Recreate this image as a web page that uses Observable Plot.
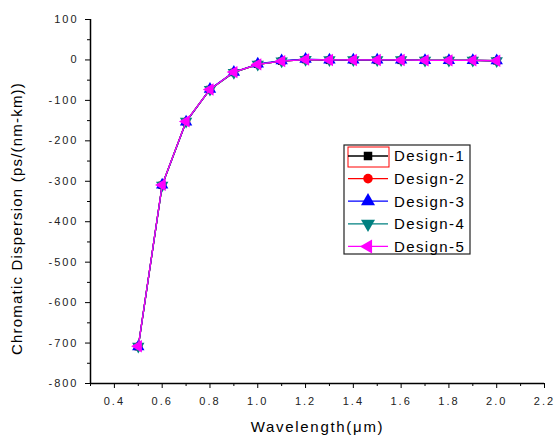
<!DOCTYPE html>
<html>
<head>
<meta charset="utf-8">
<script src="https://cdn.jsdelivr.net/npm/d3@7"></script>
<script src="https://cdn.jsdelivr.net/npm/@observablehq/plot@0.6"></script>
<style>
  html, body { margin: 0; padding: 0; background: #fff; }
  #chart { position: relative; width: 555px; height: 441px; }
  svg { font-family: Arial, "Liberation Sans", sans-serif; }
</style>
</head>
<body>
<div id="chart"></div>
<script>
// ---- data ----
const wavelength = [0.5, 0.6, 0.7, 0.8, 0.9, 1.0, 1.1, 1.2, 1.3, 1.4, 1.5, 1.6, 1.7, 1.8, 1.9, 2.0];
const design1 = [-709, -310, -153, -73, -31, -11, -3, 1, -1, -1, -1, -1, -1, -1, -1, -2];
const design2 = [-708, -309, -152, -73, -30, -11, -3, 1, 0, 0, 0, 0, -1, -1, -1, -2];
const design3 = [-709, -309, -153, -72, -30, -10, -2, 2, 0, 0, 0, 0, -1, -1, -1, -2];
const design4 = [-708, -310, -152, -73, -31, -11, -3, 1, 0, 0, 0, 0, -1, -1, -1, -2];
const design5 = [-708, -309, -152, -73, -30, -11, -3, 1, 0, 0, 0, 0, -1, -1, -1, -2];
const seriesNames = ["Design-1", "Design-2", "Design-3", "Design-4", "Design-5"];
const seriesValues = [design1, design2, design3, design4, design5];
const seriesColors = ["#000000", "#ff0000", "#0000ff", "#008080", "#ff00ff"];
const xMajorTicks = [0.4, 0.6, 0.8, 1.0, 1.2, 1.4, 1.6, 1.8, 2.0, 2.2];
const xMinorTicks = [0.3, 0.5, 0.7, 0.9, 1.1, 1.3, 1.5, 1.7, 1.9, 2.1];
const yMajorTicks = [100, 0, -100, -200, -300, -400, -500, -600, -700, -800];
const yMinorTicks = [50, -50, -150, -250, -350, -450, -550, -650, -750];
const xTitle = "Wavelength(μm)";
const yTitle = "Chromatic Dispersion (ps/(nm-km))";

// ---- custom symbols ----
const sq3 = Math.sqrt(3);
const triDown = { draw(ctx, size) { const y = -Math.sqrt(size / (sq3 * 3)); ctx.moveTo(0, -y * 2); ctx.lineTo(-sq3 * y, y); ctx.lineTo(sq3 * y, y); ctx.closePath(); } };
const triLeft = { draw(ctx, size) { const y = -Math.sqrt(size / (sq3 * 3)); ctx.moveTo(y * 2, 0); ctx.lineTo(-y, -sq3 * y); ctx.lineTo(-y, sq3 * y); ctx.closePath(); } };
const seriesSymbols = [d3.symbolSquare, d3.symbolCircle, d3.symbolTriangle, triDown, triLeft];
const seriesR = [4.2, 4.2, 4.6, 4.6, 4.6];

const rows = [];
seriesNames.forEach((name, i) => wavelength.forEach((w, j) => rows.push({ series: name, idx: i, x: w, y: seriesValues[i][j] })));

const marks = [];
seriesNames.forEach((name, i) => {
  const d = rows.filter(r => r.series === name);
  marks.push(Plot.line(d, { x: "x", y: "y", stroke: seriesColors[i], strokeWidth: 1.3 }));
  marks.push(Plot.dot(d, { x: "x", y: "y", fill: seriesColors[i], stroke: "none", symbol: () => seriesSymbols[i], r: seriesR[i] }));
});

const noLabel = () => "";
const plot = Plot.plot({
  width: 555,
  height: 441,
  marginLeft: 90,
  marginRight: 11,
  marginTop: 19,
  marginBottom: 58,
  style: { fontFamily: "Arial, 'Liberation Sans', sans-serif", background: "#fff", color: "#000" },
  x: { domain: [0.3, 2.2] },
  y: { domain: [-800, 100] },
  symbol: { type: "identity" },
  marks: [
    Plot.axisX(xMinorTicks, { tickSize: 3, tickFormat: noLabel, label: null, stroke: "#000" }),
    Plot.axisX(xMajorTicks, { tickSize: 5, tickPadding: 9, tickFormat: d3.format(".1f"), label: null, fontSize: 11, fill: "#222", stroke: "#000", className: "ticklabx" }),
    Plot.axisY(yMinorTicks, { tickSize: 3, tickFormat: noLabel, label: null, stroke: "#000" }),
    Plot.axisY(yMajorTicks, { tickSize: 5, tickPadding: 7, tickFormat: d => String(d), label: null, fontSize: 11, fill: "#222", stroke: "#000", className: "ticklaby" }),
    Plot.ruleX([0.3], { stroke: "#000", strokeWidth: 1.5 }),
    Plot.ruleY([-800], { stroke: "#000", strokeWidth: 1.5 }),
    ...marks,
    Plot.text([xTitle], { frameAnchor: "bottom", dy: 48, fontSize: 15, fill: "#000", className: "xtitle" }),
    Plot.text([yTitle], { frameAnchor: "left", textAnchor: "middle", dx: -73, dy: 17, rotate: -90, fontSize: 15, fill: "#000", className: "ytitle" })
  ]
});
document.getElementById("chart").appendChild(plot);

const svg = d3.select(plot);
svg.selectAll(".xtitle text").style("letter-spacing", "1.7px");
svg.selectAll(".ytitle text").style("letter-spacing", "1.2px");
svg.selectAll(".ticklabx text").style("letter-spacing", "2px");
svg.selectAll(".ticklaby text").style("letter-spacing", "2px");

// ---- legend (drawn in the same svg) ----
const lg = svg.append("g").attr("transform", "translate(344,145)");
lg.append("rect").attr("x", 0).attr("y", 0).attr("width", 126).attr("height", 109)
  .attr("fill", "#fff").attr("stroke", "#222").attr("stroke-width", 1.2);
lg.append("rect").attr("x", 4).attr("y", 2).attr("width", 41).attr("height", 20)
  .attr("fill", "none").attr("stroke", "#ff0000").attr("stroke-width", 1);
seriesNames.forEach((name, i) => {
  const cy = 11 + i * 22.6;
  lg.append("line").attr("x1", 4).attr("x2", 44).attr("y1", cy).attr("y2", cy)
    .attr("stroke", seriesColors[i]).attr("stroke-width", 1.3);
  const r = seriesR[i] + 0.6;
  lg.append("path").attr("d", d3.symbol(seriesSymbols[i], r * r * Math.PI)())
    .attr("transform", `translate(24,${cy})`).attr("fill", seriesColors[i]);
  lg.append("text").attr("x", 50).attr("y", cy).attr("dy", "0.36em").attr("text-anchor", "start")
    .attr("font-size", 15).attr("letter-spacing", "1.4px").attr("fill", "#000").text(name);
});
</script>
</body>
</html>
